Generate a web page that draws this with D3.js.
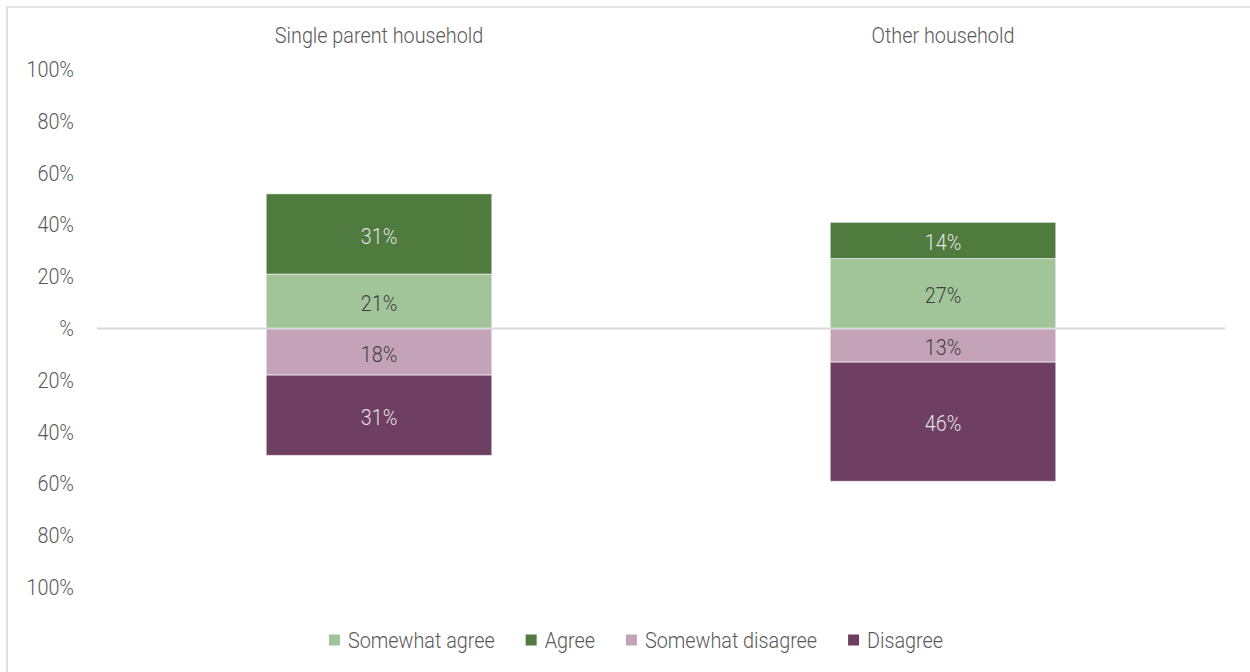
<!DOCTYPE html>
<html>
<head>
<meta charset="utf-8">
<script src="https://cdn.jsdelivr.net/npm/d3@7"></script>
<style>
  html, body { margin: 0; padding: 0; background: #fff; }
  svg text { font-family: "Roboto", "Noto Sans", sans-serif; font-weight: 300; font-size: 22px; }
</style>
</head>
<body>
<svg id="chart" width="1250" height="672"></svg>
<script>
// Household groups along the x axis
const categories = ["Single parent household", "Other household"];

// Stacked series; agreement stacks upward, disagreement stacks downward
const seriesNames = ["Somewhat agree", "Agree", "Somewhat disagree", "Disagree"];
const somewhatAgree    = [21, 27];
const agree            = [31, 14];
const somewhatDisagree = [18, 13];
const disagree         = [31, 46];

// Y axis ticks and their printed labels
const yTicks      = [100, 80, 60, 40, 20, 0, -20, -40, -60, -80, -100];
const yTickLabels = ["100%", "80%", "60%", "40%", "20%", "%", "20%", "40%", "60%", "80%", "100%"];

const colors = {
  "Somewhat agree": "#a1c498",
  "Agree": "#507b3f",
  "Somewhat disagree": "#c4a3b8",
  "Disagree": "#6e3f62"
};
const labelColors = {
  "Somewhat agree": "#404040",
  "Agree": "#e3e3e3",
  "Somewhat disagree": "#404040",
  "Disagree": "#e3e3e3"
};

// narrow-typeface look: squeeze all text horizontally
const SQUEEZE = 0.9;

const svg = d3.select("#chart");

// outer frame
svg.append("rect")
  .attr("x", 7).attr("y", 7)
  .attr("width", 1260).attr("height", 700)
  .attr("fill", "none")
  .attr("stroke", "#d9d9d9")
  .attr("stroke-width", 1.5);

const x = d3.scaleBand()
  .domain(categories)
  .range([97, 1225])
  .paddingInner(0.6)
  .paddingOuter(0.3);

const y = d3.scaleLinear()
  .domain([-100, 100])
  .range([587.5, 69.5]);

// Build stacked segments
const seriesData = {
  "Somewhat agree": somewhatAgree,
  "Agree": agree,
  "Somewhat disagree": somewhatDisagree,
  "Disagree": disagree
};
const segments = [];
categories.forEach((cat, i) => {
  let up = 0;
  ["Somewhat agree", "Agree"].forEach(s => {
    const v = seriesData[s][i];
    segments.push({ cat, series: s, value: v, y0: up, y1: up + v });
    up += v;
  });
  let down = 0;
  ["Somewhat disagree", "Disagree"].forEach(s => {
    const v = seriesData[s][i];
    segments.push({ cat, series: s, value: v, y0: down, y1: down - v });
    down -= v;
  });
});

// Y axis labels (no axis line or ticks)
const yAxis = d3.axisLeft(y)
  .tickValues(yTicks)
  .tickFormat((d, i) => yTickLabels[i])
  .tickSize(0)
  .tickPadding(0);
const yg = svg.append("g")
  .attr("transform", "translate(74,0)")
  .call(yAxis);
yg.select(".domain").remove();
yg.attr("font-family", null).attr("font-size", null);
yg.selectAll(".tick text")
  .attr("fill", "#595959")
  .attr("transform", `scale(${SQUEEZE},1)`);

// Category labels on top
const xAxis = d3.axisTop(x).tickSize(0).tickPadding(0);
const xg = svg.append("g")
  .attr("transform", "translate(0,43)")
  .call(xAxis);
xg.select(".domain").remove();
xg.attr("font-family", null).attr("font-size", null);
xg.selectAll(".tick text")
  .attr("fill", "#595959")
  .attr("transform", `scale(${SQUEEZE},1)`);

// Bars
svg.append("g").selectAll("rect")
  .data(segments)
  .join("rect")
  .attr("x", d => x(d.cat))
  .attr("width", x.bandwidth())
  .attr("y", d => y(Math.max(d.y0, d.y1)))
  .attr("height", d => Math.abs(y(d.y0) - y(d.y1)))
  .attr("fill", d => colors[d.series])
  .attr("stroke", "#ffffff")
  .attr("stroke-opacity", 0.6)
  .attr("stroke-width", 1);

// Zero line
svg.append("line")
  .attr("x1", 97).attr("x2", 1225)
  .attr("y1", y(0)).attr("y2", y(0))
  .attr("stroke", "#d9d9d9")
  .attr("stroke-width", 2);

// Value labels
svg.append("g").selectAll("text")
  .data(segments)
  .join("text")
  .attr("transform", d =>
    `translate(${x(d.cat) + x.bandwidth() / 2},${y((d.y0 + d.y1) / 2) + 2}) scale(${SQUEEZE},1)`)
  .attr("dy", "0.35em")
  .attr("text-anchor", "middle")
  .attr("fill", d => labelColors[d.series])
  .text(d => d.value + "%");

// Legend: swatch + label, items laid out left to right and centred
const swatch = 11, swatchGap = 8, itemGap = 31, legendCenter = 636, legendY = 640;
const legend = svg.append("g");
const items = legend.selectAll("g")
  .data(seriesNames)
  .join("g");
items.append("rect")
  .attr("x", 0).attr("y", -swatch / 2)
  .attr("width", swatch).attr("height", swatch)
  .attr("fill", d => colors[d]);
items.append("text")
  .attr("transform", `translate(${swatch + swatchGap},0) scale(${SQUEEZE},1)`)
  .attr("dy", "0.35em")
  .attr("fill", "#595959")
  .text(d => d);
let cursor = 0;
const offsets = [];
items.each(function () {
  offsets.push(cursor);
  const w = d3.select(this).select("text").node().getComputedTextLength() * SQUEEZE;
  cursor += swatch + swatchGap + w + itemGap;
});
const total = cursor - itemGap;
const startX = legendCenter - total / 2;
items.attr("transform", (d, i) => `translate(${startX + offsets[i]},${legendY})`);
</script>
</body>
</html>
